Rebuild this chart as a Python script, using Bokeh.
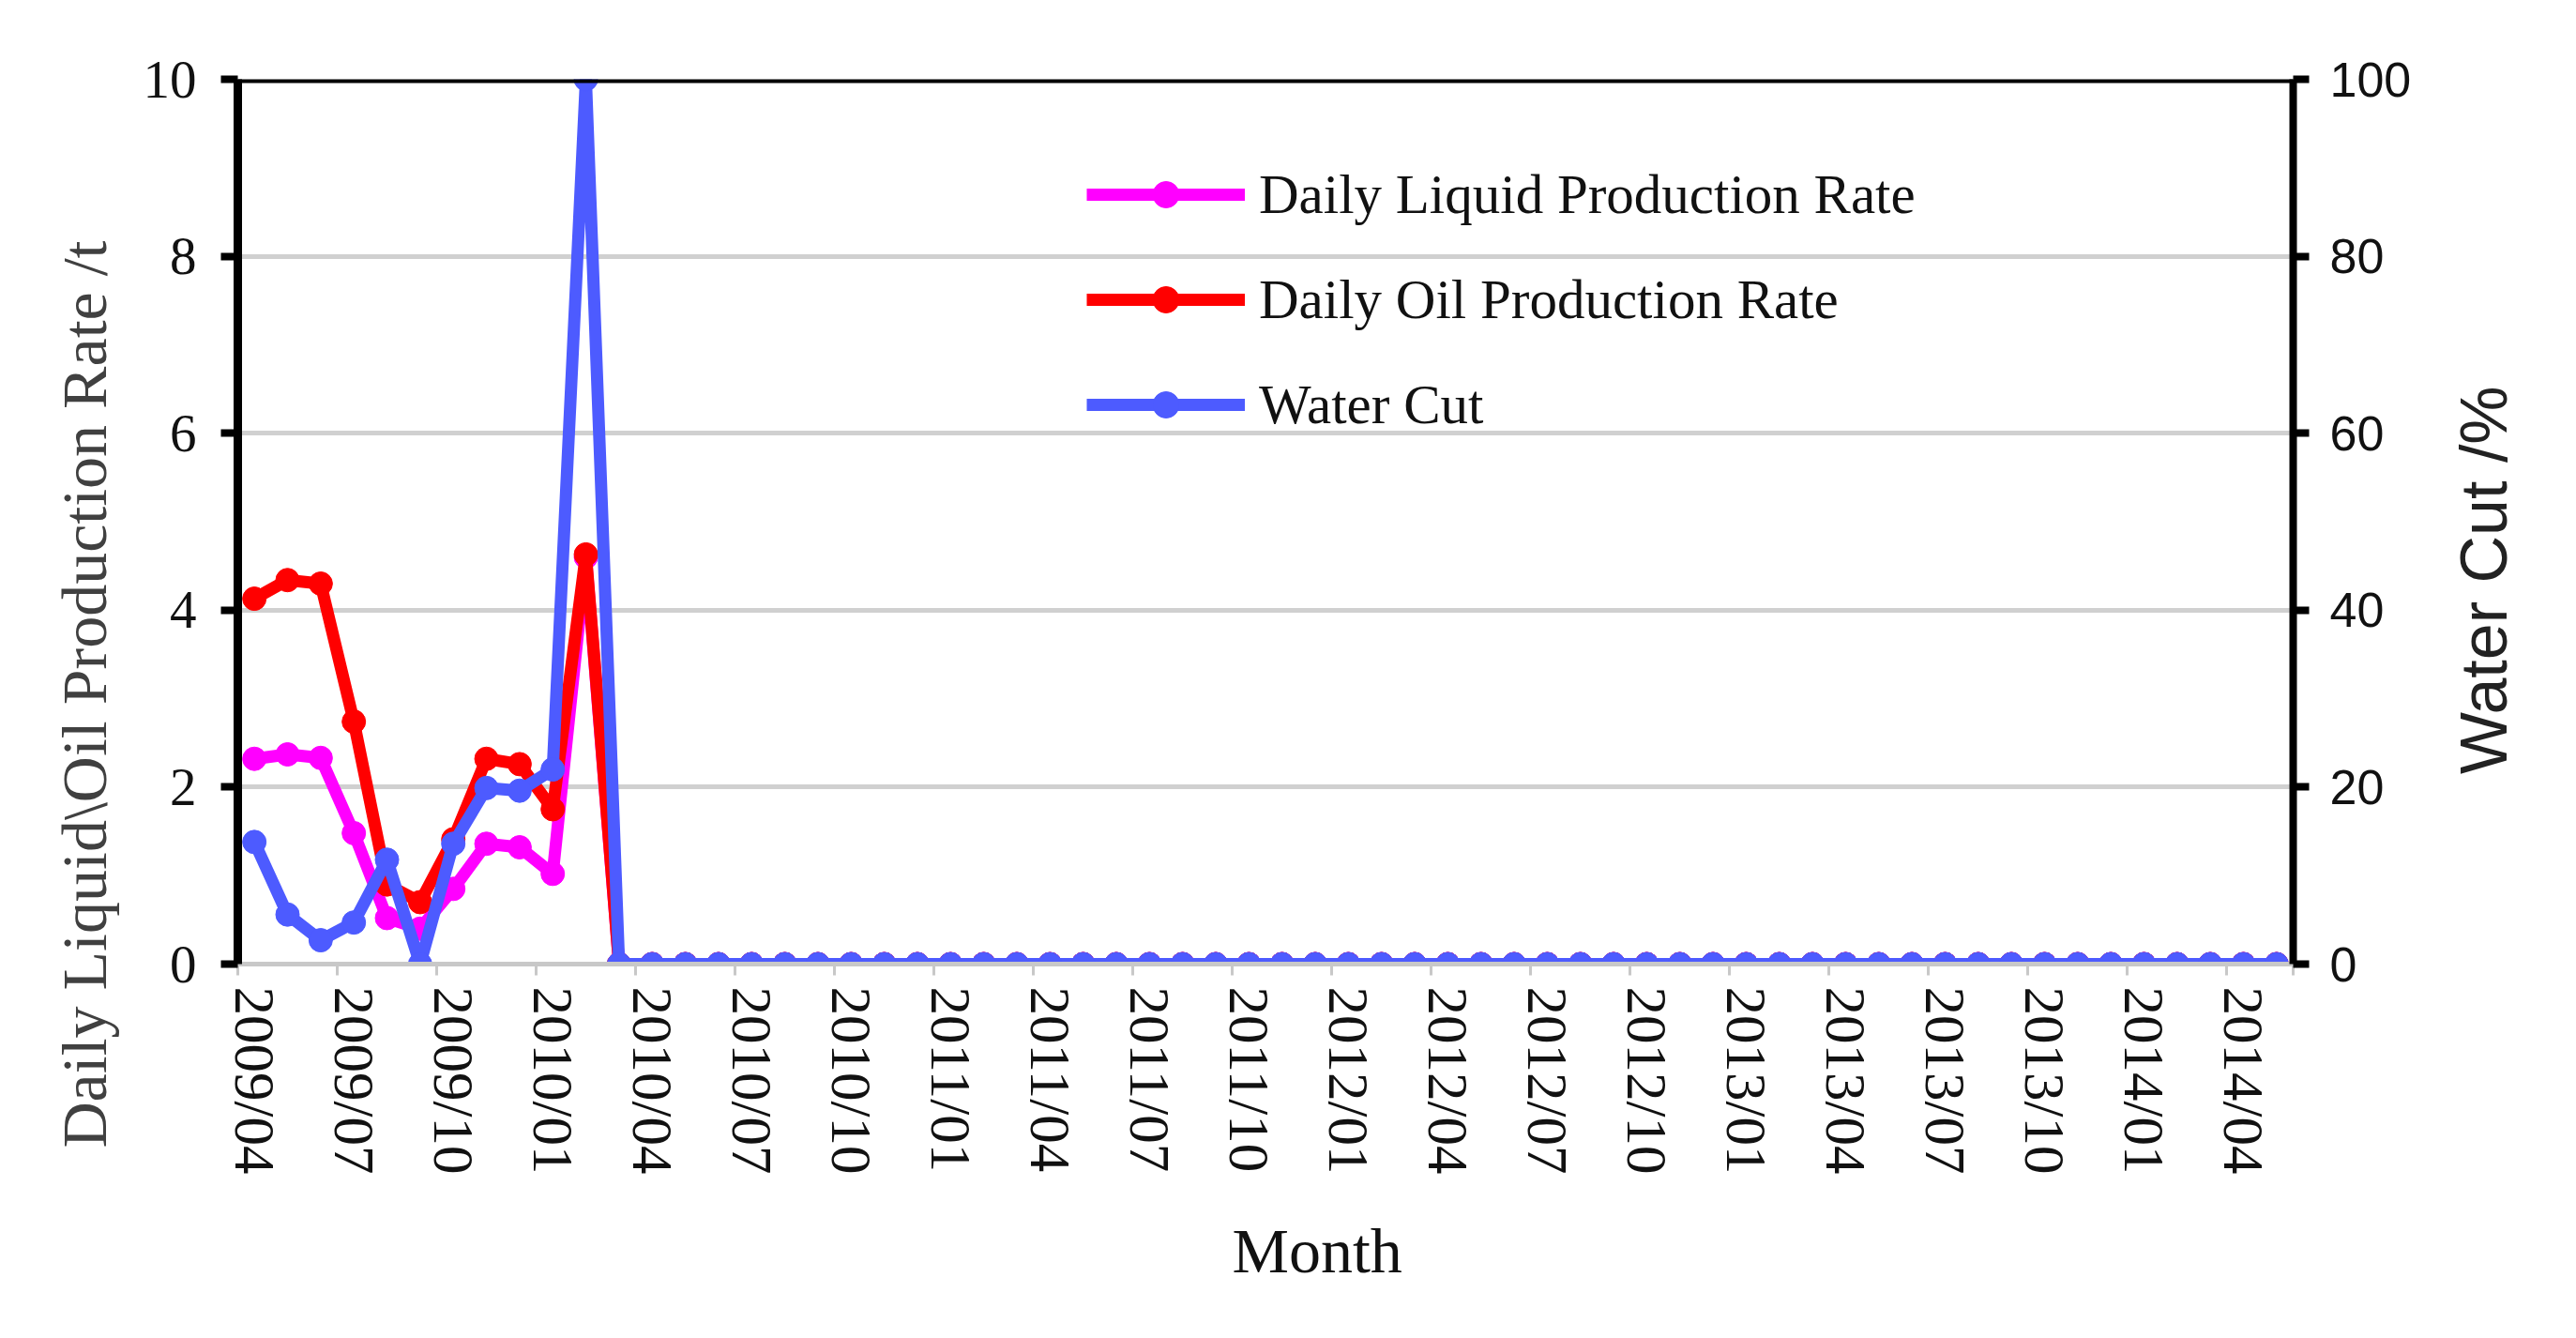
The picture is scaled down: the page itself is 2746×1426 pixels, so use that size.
import math
from bokeh.plotting import figure
from bokeh.layouts import row
from bokeh.models import (Range1d, LinearAxis, FixedTicker, Legend, LegendItem, Span, Title)
from bokeh.models import ColumnDataSource
from bokeh.core.properties import value
from bokeh.embed import file_html
from bokeh.resources import INLINE

# ---------------- data ----------------
years_months = []
for y in range(2009, 2015):
    for m in range(1, 13):
        if (y == 2009 and m < 4) or (y == 2014 and m > 5):
            continue
        years_months.append(f"{y}/{m:02d}")

tick_labels = ["2009/04", "2009/07", "2009/10", "2010/01", "2010/04", "2010/07",
               "2010/10", "2011/01", "2011/04", "2011/07", "2011/10", "2012/01",
               "2012/04", "2012/07", "2012/10", "2013/01", "2013/04", "2013/07",
               "2013/10", "2014/01", "2014/04"]

liquid = [2.32, 2.37, 2.33, 1.48, 0.52, 0.40, 0.85, 1.36, 1.32, 1.02, 4.60,
          0, 0, 0, 0, 0, 0, 0, 0, 0, 0, 0, 0, 0, 0, 0, 0, 0, 0, 0, 0, 0,
          0, 0, 0, 0, 0, 0, 0, 0, 0, 0, 0, 0, 0, 0, 0, 0, 0, 0, 0, 0,
          0, 0, 0, 0, 0, 0, 0, 0, 0, 0]
oil = [4.13, 4.34, 4.30, 2.74, 0.90, 0.70, 1.41, 2.32, 2.26, 1.75, 4.63,
       0, 0, 0, 0, 0, 0, 0, 0, 0, 0, 0, 0, 0, 0, 0, 0, 0, 0, 0, 0, 0,
       0, 0, 0, 0, 0, 0, 0, 0, 0, 0, 0, 0, 0, 0, 0, 0, 0, 0, 0, 0,
       0, 0, 0, 0, 0, 0, 0, 0, 0, 0]
water_cut = [13.8, 5.6, 2.7, 4.7, 11.8, 0.0, 13.6, 19.9, 19.6, 22.0, 100.0,
             0, 0, 0, 0, 0, 0, 0, 0, 0, 0, 0, 0, 0, 0, 0, 0, 0, 0, 0, 0, 0,
             0, 0, 0, 0, 0, 0, 0, 0, 0, 0, 0, 0, 0, 0, 0, 0, 0, 0, 0, 0,
             0, 0, 0, 0, 0, 0, 0, 0, 0, 0]

left_title = "Daily Liquid\\Oil Production Rate /t"
right_title = "Water Cut  /%"
x_title = "Month"

n = len(years_months)
idx = list(range(n))
src = ColumnDataSource(dict(x=idx, liq=liquid, oil=oil, wc=water_cut, month=years_months))

MAG = "#FF00FF"
RED = "#FF0000"
BLUE = "#4D5BFF"

H = 1426
TOP, BOT = 84, 399

# ---------------- main plot ----------------
p = figure(width=2596, height=H, output_backend="svg", toolbar_location=None,
           x_range=Range1d(-0.5, n - 0.5), y_range=Range1d(0, 10),
           min_border_left=253, min_border_right=152, min_border_top=TOP,
           min_border_bottom=BOT)
p.outline_line_color = None
p.background_fill_color = "white"
p.border_fill_color = "white"
p.extra_y_ranges = {"wc": Range1d(0, 100)}

# x axis
xa = p.xaxis[0]
tick_pos = [years_months.index(t) for t in tick_labels]
minor_pos = [t - 0.5 for t in tick_pos] + [n - 0.5]
xa.ticker = FixedTicker(ticks=tick_pos, minor_ticks=minor_pos)
xa.major_label_overrides = {i: years_months[i] for i in tick_pos}
xa.major_label_orientation = "vertical"
xa.major_label_text_font = "Liberation Serif"
xa.major_label_text_font_size = "61px"
xa.major_label_text_color = "#111111"
xa.major_label_standoff = 12
xa.major_tick_line_color = None
xa.major_tick_out = 0
xa.major_tick_in = 0
xa.minor_tick_line_color = "#c8c8c8"
xa.minor_tick_line_width = 3
xa.minor_tick_out = 12
xa.minor_tick_in = 0
xa.axis_line_color = "#c8c8c8"
xa.axis_line_width = 5

# left y axis
ya = p.yaxis[0]
ya.ticker = FixedTicker(ticks=[0, 2, 4, 6, 8, 10])
ya.major_label_text_font = "Liberation Serif"
ya.major_label_text_font_size = "57px"
ya.major_label_text_color = "#111111"
ya.major_label_standoff = 26
ya.axis_line_color = "black"
ya.axis_line_width = 9
ya.major_tick_line_color = "black"
ya.major_tick_line_width = 8
ya.major_tick_out = 18
ya.major_tick_in = 0
ya.minor_tick_line_color = None

# right y axis
ra = LinearAxis(y_range_name="wc", ticker=FixedTicker(ticks=[0, 20, 40, 60, 80, 100]))
ra.major_label_text_font = "Liberation Sans"
ra.major_label_text_font_size = "52px"
ra.major_label_text_color = "#111111"
ra.major_label_standoff = 22
ra.axis_line_color = "black"
ra.axis_line_width = 8
ra.major_tick_line_color = "black"
ra.major_tick_line_width = 8
ra.major_tick_out = 17
ra.major_tick_in = 0
ra.minor_tick_line_color = None
p.add_layout(ra, "right")

# grid
p.xgrid.grid_line_color = None
p.ygrid.ticker = FixedTicker(ticks=[2, 4, 6, 8])
p.ygrid.grid_line_color = "#d0d0d0"
p.ygrid.grid_line_width = 5
p.add_layout(Span(location=10, dimension="width", line_color="black", line_width=8))

# series
l1 = p.line("x", "liq", source=src, line_color=MAG, line_width=13, line_join="round")
s1 = p.scatter("x", "liq", source=src, size=25, fill_color=MAG, line_color=MAG)
l2 = p.line("x", "oil", source=src, line_color=RED, line_width=13, line_join="round")
s2 = p.scatter("x", "oil", source=src, size=25, fill_color=RED, line_color=RED)
l3 = p.line("x", "wc", source=src, line_color=BLUE, line_width=13, line_join="round",
            y_range_name="wc")
s3 = p.scatter("x", "wc", source=src, size=25, fill_color=BLUE, line_color=BLUE,
               y_range_name="wc")

legend = Legend(items=[LegendItem(label="Daily Liquid Production Rate", renderers=[l1, s1]),
                       LegendItem(label="Daily Oil Production Rate", renderers=[l2, s2]),
                       LegendItem(label="Water Cut", renderers=[l3, s3])],
                location=(905, 561), orientation="vertical",
                glyph_width=169, glyph_height=70, label_height=70, spacing=42,
                label_standoff=15, padding=0, margin=0,
                border_line_color=None, background_fill_alpha=0,
                label_text_font="Liberation Serif", label_text_font_size="59px",
                label_text_color="#111111")
p.add_layout(legend)

# left axis title (outside the axis, shifted down along the axis)
p.add_layout(Title(text=left_title, align="left", offset=-196, vertical_align="bottom",
                   standoff=43, text_font="Liberation Serif", text_font_size="68px",
                   text_font_style="normal", text_color="#404040"), "left")

# x axis title
p.add_layout(Title(text=x_title, align="left", offset=1060, vertical_align="top",
                   standoff=80, text_font="Liberation Serif", text_font_size="68px",
                   text_font_style="normal", text_color="#111111"), "below")

# right axis title panel (frame aligned with the main plot frame)
fr = figure(width=140, height=H, output_backend="svg", toolbar_location=None,
            x_range=Range1d(0, 140), y_range=Range1d(0, H - TOP - BOT),
            min_border_left=0, min_border_right=0, min_border_top=TOP,
            min_border_bottom=BOT)
fr.outline_line_color = None
fr.axis.visible = False
fr.grid.visible = False
fr.background_fill_color = "white"
fr.border_fill_color = "white"
fr.text(x=[51], y=[419], text=[right_title], angle=math.pi / 2,
        text_align="center", text_baseline="middle",
        text_font=value("Liberation Sans"), text_font_size=value("70px"),
        text_color="#222222")

layout = row(p, fr, spacing=0)

open("out.html", "w").write(file_html(layout, INLINE))
